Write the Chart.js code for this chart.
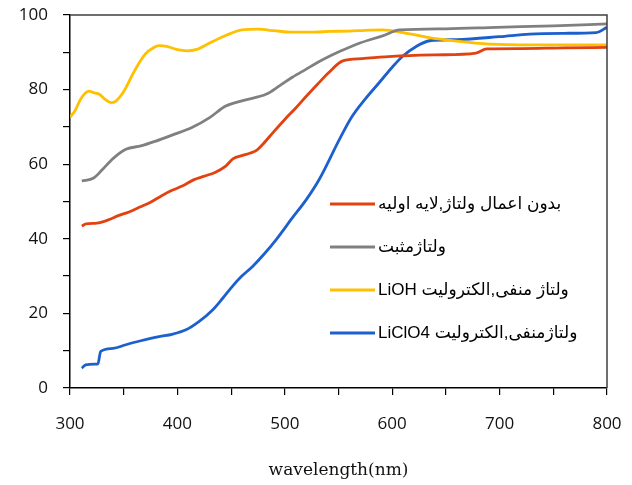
<!DOCTYPE html>
<html>
<head>
<meta charset="utf-8">
<script src="https://cdn.jsdelivr.net/npm/chart.js@4/dist/chart.umd.min.js"></script>
<style>
html,body{margin:0;padding:0;background:#fff;}
canvas{display:block;}
</style>
</head>
<body>
<canvas id="c" width="632" height="485"></canvas>
<script>
// Series labels
const seriesLabels = [
  "بدون اعمال ولتاژ,لایه اولیه",
  "ولتاژمثبت",
  "ولتاژ منفی,الکترولیت LiOH",
  "ولتاژمنفی,الکترولیت LiClO4"
];
const xTitle = "wavelength(nm)";

// Red: no voltage, initial layer
const redNm  = [311,315,325,335,345,355,365,375,385,395,405,415,425,435,445,452,460,468,474,480,490,500,510,520,530,541,554,572,600,640,678,688,720,760,800];
const redVal = [43.4,44.0,44.2,45.0,46.2,47.2,48.5,49.8,51.5,53.0,54.2,55.8,56.8,57.8,59.5,61.5,62.3,63.0,63.8,65.5,68.8,72.0,75.0,78.2,81.3,84.6,87.7,88.3,88.9,89.3,89.8,90.9,91.0,91.2,91.3];

// Gray: positive voltage
const grayNm  = [311,322,330,340,352,366,380,395,414,430,445,460,483,495,507,520,530,542,551,570,591,607,650,697,750,800];
const grayVal = [55.5,56.3,58.5,61.5,64.0,64.9,66.2,67.8,69.9,72.5,75.6,77.0,78.8,81.0,83.3,85.5,87.2,89.0,90.2,92.5,94.4,96.0,96.3,96.7,97.1,97.6];

// Yellow: negative voltage, LiOH
const yellowNm  = [300,305,310,317.7,322,327,333,338,343,350,360,370,378,383,390,400,409,418,430,445,460,475,490,507,525,542,560,575,591,610,633,660,691,730,800];
const yellowVal = [72.6,74.5,77.5,79.6,79.2,78.8,77.3,76.5,77.0,79.5,85.0,89.5,91.3,91.8,91.6,90.7,90.4,90.8,92.5,94.5,96.0,96.2,95.8,95.4,95.4,95.6,95.7,95.9,96.0,95.3,94.0,93.0,92.2,92.0,92.0];

// Blue: negative voltage, LiClO4
const blueNm  = [311,314.6,324,326,328.6,340,352,365,383,395,408,420,433,442,451,460,470,481,492,507,520,532,551,562,575,588,600,610,622,635,660,700,728,760,790,800];
const blueVal = [5.3,6.2,6.4,6.5,9.8,10.6,11.6,12.6,13.8,14.4,15.6,17.8,21.0,24.0,27.2,30.0,32.6,36.0,39.8,45.6,50.5,55.9,66.7,72.5,77.5,81.9,86.0,89.0,91.5,93.1,93.4,94.2,94.9,95.1,95.3,96.7];

function pts(xs, ys){ return xs.map((x,i)=>({x:x, y:ys[i]})); }

const colors = ["#E2420F", "#808080", "#FFC000", "#1C60CE"];
const seriesData = [pts(redNm,redVal), pts(grayNm,grayVal), pts(yellowNm,yellowVal), pts(blueNm,blueVal)];

const boxPlugin = {
  id: 'boxPlugin',
  afterDraw(chart){
    const {ctx, chartArea:a} = chart;
    ctx.save();
    ctx.strokeStyle = '#404040';
    ctx.lineWidth = 1.5;
    ctx.beginPath();
    ctx.moveTo(a.left, a.top);
    ctx.lineTo(a.right, a.top);
    ctx.lineTo(a.right, a.bottom);
    ctx.stroke();
    ctx.restore();
    // legend inside plot
    ctx.save();
    const rows = [204, 247, 290, 333];
    chart.data.datasets.forEach((ds,i)=>{
      const y = rows[i];
      ctx.strokeStyle = ds.borderColor;
      ctx.lineWidth = 3;
      ctx.beginPath();
      ctx.moveTo(330, y);
      ctx.lineTo(375, y);
      ctx.stroke();
      ctx.fillStyle = '#000';
      ctx.font = '17px "Liberation Sans", "DejaVu Sans", sans-serif';
      ctx.direction = 'rtl';
      ctx.textAlign = 'left';
      ctx.textBaseline = 'middle';
      ctx.fillText(ds.label, 378, y);
    });
    ctx.restore();
  }
};

new Chart(document.getElementById('c'), {
  type: 'line',
  data: {
    datasets: seriesData.map((d,i)=>({
      label: seriesLabels[i],
      data: d,
      borderColor: colors[i],
      backgroundColor: colors[i],
      borderWidth: 2.8,
      pointRadius: 0,
      fill: false,
      cubicInterpolationMode: 'monotone'
    }))
  },
  options: {
    responsive: false,
    animation: false,
    layout: { padding: { top: 15, right: 25, left: 0, bottom: 0 } },
    plugins: { legend: { display: false }, tooltip: { enabled: false } },
    scales: {
      x: {
        type: 'linear',
        min: 300, max: 800,
        afterFit(s){ s.height = 97; s.paddingLeft = 0; s.paddingRight = 0; },
        grid: { display: true, drawOnChartArea: false, drawTicks: true, tickLength: 7, color: '#000', lineWidth: 1.2 },
        border: { display: true, color: '#000', width: 1.5 },
        ticks: {
          stepSize: 50, autoSkip: false, maxRotation: 0, padding: 19,
          color: '#111',
          font: { family: '"Open Sans", "DejaVu Sans", sans-serif', size: 17 },
          callback: v => (v % 100 === 0 ? String(v) : '')
        },
        title: {
          display: true, text: xTitle, color: '#111',
          font: { family: '"DejaVu Serif", serif', size: 17 },
          padding: { top: 4, bottom: 4 }
        }
      },
      y: {
        min: 0, max: 100,
        afterFit(s){ s.width = 70; s.paddingTop = 0; s.paddingBottom = 0; },
        grid: { display: true, drawOnChartArea: false, drawTicks: true, tickLength: 7, color: '#000', lineWidth: 1.2 },
        border: { display: true, color: '#000', width: 1.5 },
        ticks: {
          stepSize: 10, autoSkip: false, padding: 15,
          color: '#111',
          font: { family: '"Open Sans", "DejaVu Sans", sans-serif', size: 17 },
          callback: v => (v % 20 === 0 ? String(v) : '')
        }
      }
    }
  },
  plugins: [boxPlugin]
});
</script>
</body>
</html>
